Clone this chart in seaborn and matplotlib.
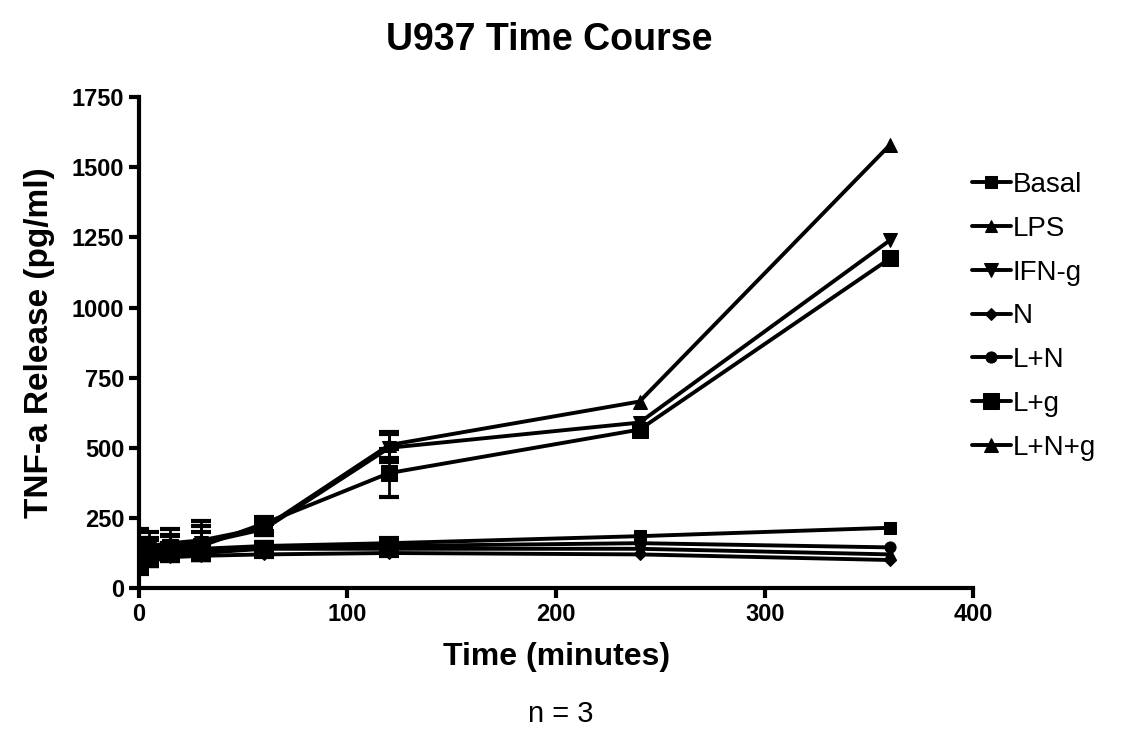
import matplotlib.pyplot as plt
import pandas as pd
import seaborn as sns

# Time points (minutes)
times = [0, 5, 15, 30, 60, 120, 240, 360]

# Mean TNF-a release (pg/ml)
basal = [100, 110, 125, 130, 150, 160, 185, 215]
lps = [95, 105, 115, 125, 140, 140, 140, 120]
ifn_g = [120, 140, 150, 160, 210, 500, 590, 1240]
n_only = [85, 95, 110, 115, 120, 125, 120, 100]
l_n = [110, 120, 135, 140, 150, 150, 160, 145]
l_g = [110, 130, 145, 150, 230, 410, 565, 1175]
l_n_g = [130, 150, 160, 170, 215, 510, 665, 1580]

# Error (SEM)
err_basal = [40, 30, 20, 25, 15, 20, 0, 0]
err_lps = [30, 25, 20, 20, 15, 15, 0, 0]
err_ifn_g = [60, 40, 40, 60, 20, 50, 0, 0]
err_n = [20, 15, 15, 15, 10, 10, 0, 0]
err_l_n = [30, 25, 25, 20, 15, 15, 0, 0]
err_l_g = [50, 40, 40, 50, 25, 85, 0, 0]
err_l_n_g = [80, 50, 50, 70, 25, 45, 0, 0]

names = ["Basal", "LPS", "IFN-g", "N", "L+N", "L+g", "L+N+g"]
means = [basal, lps, ifn_g, n_only, l_n, l_g, l_n_g]
errs = [err_basal, err_lps, err_ifn_g, err_n, err_l_n, err_l_g, err_l_n_g]
markers = {"Basal": "s", "LPS": "^", "IFN-g": "v", "N": "D",
           "L+N": "o", "L+g": "s", "L+N+g": "^"}
msizes = {"Basal": 9, "LPS": 8, "IFN-g": 10, "N": 6,
          "L+N": 8, "L+g": 12, "L+N+g": 10}

rows = []
for name, m, e in zip(names, means, errs):
    for t, v, s in zip(times, m, e):
        rows.append({"Time": t, "TNF": v, "err": s, "Group": name})
df = pd.DataFrame(rows)

sns.set_style("ticks")
plt.rcParams["font.family"] = ["Liberation Sans", "DejaVu Sans"]
plt.rcParams["text.color"] = "black"
plt.rcParams["xtick.color"] = "black"
plt.rcParams["ytick.color"] = "black"
plt.rcParams["axes.labelcolor"] = "black"

fig = plt.figure(figsize=(11.28, 7.36), dpi=100)
ax = fig.add_axes([0.123, 0.201, 0.740, 0.667])

for name in names:
    d = df[(df["Group"] == name)]
    de = d[d["err"] > 0]
    ax.errorbar(de["Time"], de["TNF"], yerr=de["err"], fmt="none",
                ecolor="black", elinewidth=2, capsize=7, capthick=3, zorder=2)
    sns.lineplot(data=d, x="Time", y="TNF", ax=ax, color="black",
                 linewidth=2.8, marker=markers[name], markersize=msizes[name],
                 markeredgecolor="black", label=name, zorder=3)

ax.set_xlim(0, 400)
ax.set_ylim(0, 1750)
ax.set_xticks([0, 100, 200, 300, 400])
ax.set_yticks([0, 250, 500, 750, 1000, 1250, 1500, 1750])
sns.despine(ax=ax)
for sp in ["left", "bottom"]:
    ax.spines[sp].set_linewidth(3)
    ax.spines[sp].set_color("black")
ax.tick_params(width=3, length=7, labelsize=17)
for lab in ax.get_xticklabels() + ax.get_yticklabels():
    lab.set_fontweight("bold")

ax.set_xlabel("Time (minutes)", fontsize=23, fontweight="bold", labelpad=12)
ax.set_ylabel("TNF-a Release (pg/ml)", fontsize=24, fontweight="bold",
              labelpad=12)
fig.text(0.487, 0.945, "U937 Time Course", ha="center", va="center",
         fontsize=27, fontweight="bold")
fig.text(0.497, 0.03, "n = 3", ha="center", va="center", fontsize=21)

leg = ax.legend(loc="upper left", bbox_to_anchor=(0.985, 0.87), frameon=False,
                fontsize=20, handlelength=1.4, handletextpad=0.05,
                labelspacing=0.64, borderaxespad=0)

fig.savefig("out.png", dpi=100)
